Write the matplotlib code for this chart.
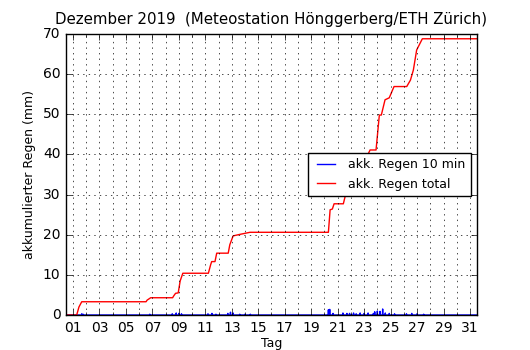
import numpy as np
import matplotlib
matplotlib.use('Agg')
import matplotlib.pyplot as plt

plt.style.use('classic')

# akkumulierter Regen total (Tag, mm)
tage_total = [0.5, 1.28, 1.45, 1.66, 6.52, 6.6, 6.87, 8.53, 8.6, 8.75, 8.95, 9.1, 9.3, 11.23,
              11.4, 11.48, 11.73, 11.86, 12.73, 12.85, 13.1, 13.5, 14.38, 20.3, 20.43, 20.6,
              20.73, 21.43, 21.6, 22.0, 22.5, 23.0, 23.45, 23.9, 24.15, 24.3, 24.58, 24.9,
              25.26, 26.22, 26.5, 26.72, 26.97, 27.4, 31.53]
regen_total = [0.0, 0.0, 2.0, 3.3, 3.3, 3.7, 4.3, 4.3, 4.7, 5.4, 5.5, 8.5, 10.4, 10.4,
               12.5, 13.3, 13.3, 15.4, 15.4, 17.5, 19.7, 20.0, 20.6, 20.6, 26.2, 26.4,
               27.7, 27.7, 30.0, 33.0, 35.0, 38.0, 41.1, 41.1, 49.8, 49.8, 53.6, 54.1,
               56.9, 56.9, 58.5, 61.0, 66.0, 68.8, 68.8]

# Regen pro 10 min (Tag, mm)
tage_10min = [1.66, 1.76, 6.8, 8.5, 8.8, 9.0, 9.2, 11.2, 11.5, 11.8, 12.7, 12.9, 13.1,
              13.6, 14.0, 14.4, 20.3, 20.4, 20.65, 21.4, 21.7, 21.9, 22.2, 22.4, 22.7,
              23.0, 23.3, 23.7, 23.8, 24.0, 24.2, 24.4, 24.6, 24.9, 25.3, 26.2, 26.6,
              27.0, 27.5]
regen_10min = [0.3, 0.2, 0.2, 0.3, 0.5, 0.4, 0.3, 0.3, 0.4, 0.2, 0.4, 0.7, 0.5,
               0.2, 0.2, 0.2, 1.3, 1.4, 0.4, 0.5, 0.4, 0.4, 0.5, 0.3, 0.5,
               0.4, 0.5, 0.4, 0.8, 1.0, 0.9, 1.5, 0.5, 0.4, 0.3, 0.3, 0.4,
               0.3, 0.2]

x10 = [0.5]
y10 = [0.0]
for t, r in zip(tage_10min, regen_10min):
    x10 += [t - 0.015, t, t + 0.015]
    y10 += [0.0, r, 0.0]
x10.append(31.53)
y10.append(0.0)

fig = plt.figure(figsize=(5.3, 3.5), dpi=100, facecolor='white')
ax = fig.add_axes([0.1245, 0.1, 0.7755, 0.803])

ax.plot(x10, y10, color='blue', lw=1, label='akk. Regen 10 min')
ax.plot(tage_total, regen_total, color='red', lw=1, label='akk. Regen total')

ax.set_xlim(0.47, 31.53)
ax.set_ylim(0, 70)
ax.set_xticks(np.arange(1, 32, 2))
ax.set_xticklabels(['%02d' % d for d in range(1, 32, 2)])
ax.set_xticks(np.arange(1, 32, 1), minor=True)
ax.set_yticks(np.arange(0, 71, 10))
ax.tick_params(labelsize=10)
ax.grid(True, which='both', axis='x', color='black', linestyle=':')
ax.grid(True, which='major', axis='y', color='black', linestyle=':')
ax.set_axisbelow(False)

ax.set_xlabel('Tag', fontsize=9, labelpad=2)
ax.set_ylabel('akkumulierter Regen (mm)', fontsize=9)
ax.set_title('Dezember 2019  (Meteostation Hönggerberg/ETH Zürich)', fontsize=10.8, y=1.01)

ax.legend(loc='center right', bbox_to_anchor=(1.0, 0.5), fontsize=9, frameon=True)

fig.savefig('out.png', dpi=100, facecolor='white')
